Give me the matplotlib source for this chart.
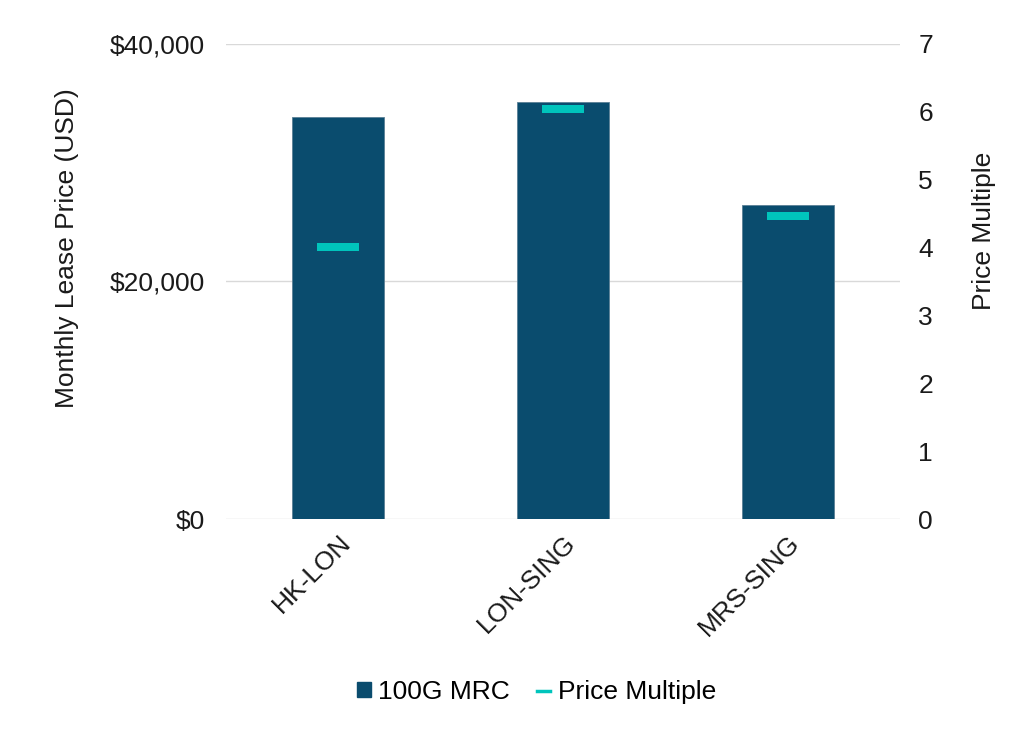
import matplotlib
matplotlib.use("Agg")
import matplotlib.pyplot as plt
from matplotlib.lines import Line2D
from matplotlib.patches import Patch
import numpy as np

categories = ["HK-LON", "LON-SING", "MRS-SING"]
mrc_100g = [33800, 35100, 26400]
price_multiple = [4.0, 6.04, 4.46]
left_ticks = [0, 20000, 40000]
left_tick_labels = ["$0", "$20,000", "$40,000"]
right_ticks = [0, 1, 2, 3, 4, 5, 6, 7]

BAR_COLOR = "#0A4C6E"
DASH_COLOR = "#00C4BC"
FONT = ["Liberation Sans", "DejaVu Sans"]
plt.rcParams["font.family"] = FONT
FS = 19
TXT = "#1a1a1a"

fig = plt.figure(figsize=(10.36, 7.30), dpi=100)
ax = fig.add_axes([0.218, 0.289, 0.651, 0.651])
x = np.arange(len(categories))

ax.bar(x, mrc_100g, width=0.41, color=BAR_COLOR, zorder=3,
       edgecolor="#5A7F95", linewidth=0.6)
ax.set_ylim(0, 40000)
ax.set_xlim(-0.5, len(categories) - 0.5)
ax.set_yticks(left_ticks)
ax.set_yticklabels(left_tick_labels)
ax.yaxis.grid(True, color="#D9D9D9", linewidth=1.0, zorder=0)
ax.set_axisbelow(True)
for s in ["top", "right", "left", "bottom"]:
    ax.spines[s].set_visible(False)
ax.tick_params(axis="y", length=0, pad=15, labelsize=FS, colors=TXT)
ax.tick_params(axis="x", length=0, pad=8, labelsize=FS, colors=TXT)
ax.set_xticks(x)
ax.set_xticklabels(categories, rotation=45, ha="right", rotation_mode="anchor")
ax.set_ylabel("Monthly Lease Price (USD)", fontsize=FS, color=TXT)
ax.yaxis.set_label_coords(-0.217, 0.571)

ax2 = ax.twinx()
ax2.set_ylim(0, 7)
ax2.set_yticks(right_ticks)
for s in ["top", "right", "left", "bottom"]:
    ax2.spines[s].set_visible(False)
ax2.tick_params(axis="y", length=0, pad=13, labelsize=FS, colors=TXT)
ax2.set_ylabel("Price Multiple", fontsize=FS, color=TXT)
ax2.yaxis.set_label_coords(1.107, 0.606)

h = 0.19
dash = [(-1, -h), (1, -h), (1, h), (-1, h), (-1, -h)]
ax2.plot(x, price_multiple, linestyle="none", marker=dash, markersize=30.5,
         color=DASH_COLOR, markeredgewidth=0, zorder=4)

handles = [
    Patch(facecolor=BAR_COLOR, edgecolor=BAR_COLOR, label="100G MRC"),
    Line2D([0], [0], color=DASH_COLOR, linewidth=2.5, label="Price Multiple"),
]
fig.legend(handles=handles, loc="center", bbox_to_anchor=(0.518, 0.052), ncol=2,
           frameon=False, fontsize=FS, handlelength=0.5, handleheight=0.5,
           handletextpad=0.3, columnspacing=1.0)

fig.savefig("out.png", dpi=100)
